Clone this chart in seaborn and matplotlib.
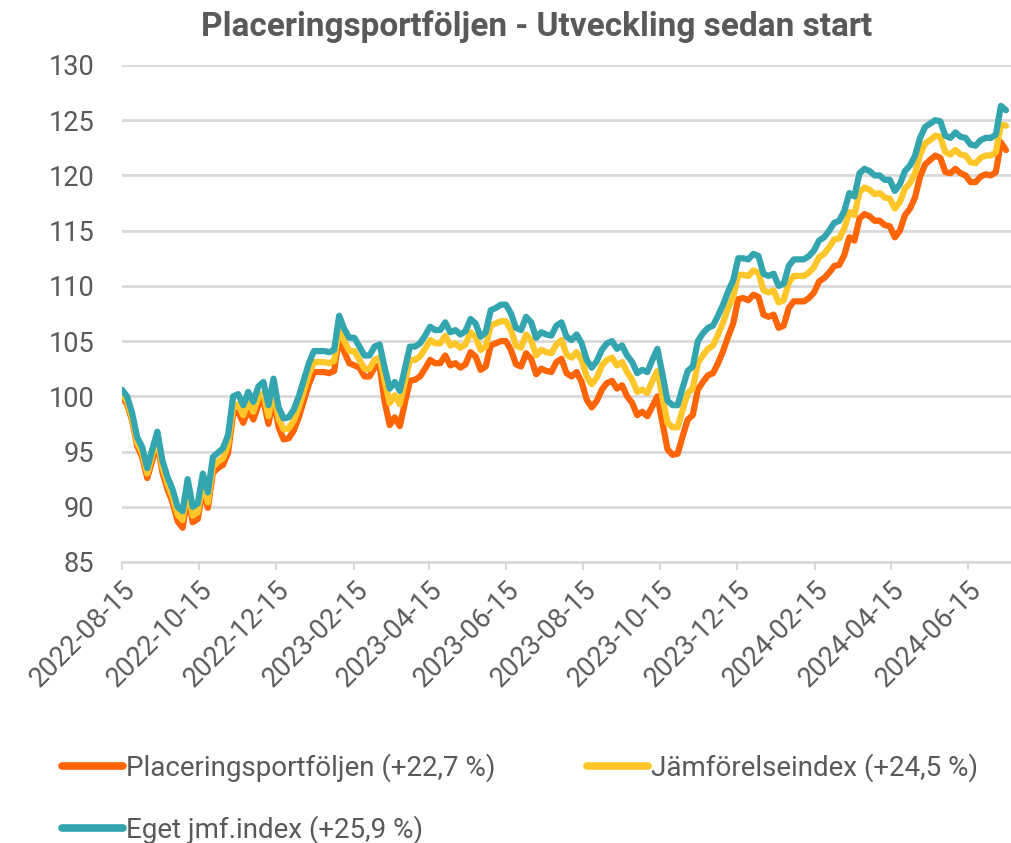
import matplotlib
matplotlib.use('Agg')
import matplotlib.pyplot as plt
import matplotlib.dates as mdates
import seaborn as sns
import pandas as pd

# Observation dates: every 4th day from the start of the portfolio
start_date = '2022-08-15'
n_obs = 176

# Index values (start = 100)
eget = [100.6, 100.0, 98.5, 96.3, 95.4, 93.5, 95.2, 96.8, 94.2, 92.7,
        91.6, 90.0, 89.6, 92.5, 90.0, 90.3, 93.0, 91.3, 94.5, 94.9,
        95.3, 96.5, 100.0, 100.2, 99.2, 100.4, 99.5, 100.9, 101.3, 99.2,
        101.6, 99.0, 98.0, 98.1, 98.8, 100.0, 101.5, 103.0, 104.1, 104.1,
        104.1, 104.0, 104.2, 107.3, 106.1, 105.3, 105.3, 104.5, 103.7, 103.7,
        104.5, 104.7, 102.6, 100.7, 101.3, 100.5, 102.5, 104.5, 104.5, 104.8,
        105.5, 106.3, 106.0, 106.0, 106.7, 105.8, 106.0, 105.6, 105.9, 107.0,
        106.6, 105.4, 105.8, 107.8, 108.0, 108.3, 108.3, 107.5, 106.2, 106.0,
        107.2, 106.7, 105.3, 105.8, 105.6, 105.5, 106.4, 106.7, 105.4, 105.1,
        105.6, 104.8, 103.3, 102.6, 103.2, 104.2, 104.8, 105.0, 104.3, 104.6,
        103.7, 103.1, 102.1, 102.4, 102.2, 103.3, 104.3, 102.0, 99.6, 99.2,
        99.2, 100.8, 102.3, 102.7, 105.0, 105.7, 106.2, 106.4, 107.3, 108.3,
        109.5, 110.5, 112.5, 112.5, 112.4, 112.9, 112.7, 111.1, 110.9, 111.1,
        110.0, 110.2, 111.8, 112.4, 112.4, 112.4, 112.7, 113.2, 114.1, 114.4,
        115.0, 115.7, 115.9, 116.8, 118.4, 118.1, 120.2, 120.6, 120.4, 120.0,
        120.0, 119.6, 119.6, 118.6, 119.2, 120.4, 120.9, 121.8, 123.4, 124.4,
        124.7, 125.0, 124.9, 123.6, 123.4, 123.9, 123.5, 123.4, 122.8, 122.7,
        123.2, 123.4, 123.4, 123.7, 126.3, 125.9]

jamfor = [100.2, 99.6, 98.0, 95.8, 94.9, 93.0, 94.7, 96.2, 93.6, 92.1,
          90.9, 89.3, 88.8, 91.7, 89.2, 89.5, 92.2, 90.4, 93.6, 94.1,
          94.4, 95.6, 99.1, 99.3, 98.3, 99.5, 98.6, 99.9, 100.3, 98.2,
          100.6, 98.0, 97.0, 97.1, 97.8, 99.0, 100.5, 102.0, 103.1, 103.1,
          103.1, 103.0, 103.2, 106.2, 105.0, 104.1, 104.1, 103.3, 102.5, 102.5,
          103.3, 103.5, 101.4, 99.4, 100.1, 99.3, 101.3, 103.3, 103.3, 103.6,
          104.3, 105.1, 104.8, 104.8, 105.5, 104.6, 104.8, 104.4, 104.7, 105.8,
          105.4, 104.2, 104.5, 106.4, 106.6, 106.8, 106.8, 106.0, 104.6, 104.4,
          105.6, 105.1, 103.7, 104.2, 104.0, 103.9, 104.7, 105.1, 103.8, 103.5,
          104.0, 103.3, 101.8, 101.1, 101.7, 102.8, 103.3, 103.5, 102.8, 103.1,
          102.2, 101.5, 100.4, 100.6, 100.3, 101.4, 102.3, 99.9, 97.6, 97.2,
          97.2, 98.8, 100.3, 100.7, 103.0, 103.7, 104.3, 104.6, 105.6, 106.7,
          108.0, 109.0, 111.0, 111.0, 110.9, 111.4, 111.2, 109.6, 109.4, 109.6,
          108.5, 108.7, 110.3, 110.9, 110.9, 110.9, 111.2, 111.7, 112.6, 112.9,
          113.5, 114.2, 114.3, 115.2, 116.7, 116.4, 118.5, 118.9, 118.7, 118.3,
          118.4, 118.0, 117.9, 117.0, 117.6, 118.8, 119.3, 120.2, 121.9, 122.9,
          123.2, 123.6, 123.5, 122.1, 121.9, 122.3, 121.9, 121.8, 121.2, 121.1,
          121.6, 121.8, 121.8, 122.1, 124.6, 124.5]

placering = [99.9, 99.3, 97.8, 95.5, 94.5, 92.6, 94.2, 95.8, 93.1, 91.6,
             90.4, 88.7, 88.1, 91.0, 88.6, 88.9, 91.6, 89.9, 93.1, 93.5,
             93.8, 94.9, 98.4, 98.6, 97.6, 98.8, 97.9, 99.2, 99.6, 97.5,
             99.8, 97.2, 96.1, 96.2, 96.9, 98.1, 99.6, 101.1, 102.2, 102.2,
             102.2, 102.1, 102.3, 105.4, 104.0, 103.0, 102.8, 102.6, 101.8, 101.8,
             102.6, 102.8, 99.5, 97.4, 98.1, 97.3, 99.4, 101.4, 101.5, 101.8,
             102.5, 103.3, 103.0, 103.0, 103.7, 102.8, 103.0, 102.6, 102.9, 104.0,
             103.6, 102.4, 102.7, 104.6, 104.8, 105.0, 105.0, 104.2, 102.9, 102.7,
             103.9, 103.4, 102.0, 102.5, 102.3, 102.2, 103.1, 103.4, 102.1, 101.8,
             102.2, 101.3, 99.7, 99.0, 99.6, 100.6, 101.2, 101.4, 100.7, 101.0,
             100.0, 99.4, 98.3, 98.6, 98.2, 99.1, 100.0, 97.6, 95.2, 94.7,
             94.8, 96.4, 97.9, 98.3, 100.6, 101.3, 101.9, 102.1, 103.0, 104.1,
             105.4, 106.6, 108.8, 108.9, 108.7, 109.2, 109.0, 107.4, 107.2, 107.4,
             106.2, 106.4, 108.0, 108.6, 108.6, 108.6, 108.9, 109.4, 110.4, 110.7,
             111.2, 111.8, 111.9, 112.8, 114.4, 114.1, 116.1, 116.5, 116.3, 115.9,
             115.9, 115.5, 115.4, 114.4, 115.0, 116.4, 117.0, 118.0, 119.9, 121.0,
             121.4, 121.8, 121.6, 120.3, 120.2, 120.6, 120.2, 120.0, 119.4, 119.4,
             119.9, 120.1, 120.0, 120.3, 123.0, 122.3]

series_names = ['Placeringsportföljen (+22,7 %)',
                'Jämförelseindex (+24,5 %)',
                'Eget jmf.index (+25,9 %)']
series_colors = ['#FF6405', '#FFC629', '#33A5AF']
y_ticks = [85, 90, 95, 100, 105, 110, 115, 120, 125, 130]

dates = pd.date_range(start_date, periods=n_obs, freq='4D')
df = pd.concat([
    pd.DataFrame({'Datum': dates, 'Index': placering, 'Serie': series_names[0]}),
    pd.DataFrame({'Datum': dates, 'Index': jamfor, 'Serie': series_names[1]}),
    pd.DataFrame({'Datum': dates, 'Index': eget, 'Serie': series_names[2]}),
], ignore_index=True)

sns.set_theme(style='white')
plt.rcParams['font.family'] = ['Roboto', 'DejaVu Sans']
text_grey = '#595959'
grid_grey = '#D9D9D9'

fig = plt.figure(figsize=(10.11, 8.43), dpi=100)
ax = fig.add_axes([122 / 1011, 1 - 562 / 843, 1 - 122 / 1011, (562 - 65) / 843])

sns.lineplot(data=df, x='Datum', y='Index', hue='Serie', hue_order=series_names,
             palette=series_colors, linewidth=4.5, ax=ax, legend=False)
for line in ax.lines:
    line.set_solid_capstyle('round')
    line.set_solid_joinstyle('round')

ax.set_ylim(85, 130)
ax.set_yticks(y_ticks)
ax.set_xlim(pd.Timestamp('2022-08-15'), pd.Timestamp('2024-07-19'))
ax.xaxis.set_major_locator(mdates.MonthLocator(bymonth=[2, 4, 6, 8, 10, 12], bymonthday=15))
ax.xaxis.set_major_formatter(mdates.DateFormatter('%Y-%m-%d'))
ax.set_xlabel('')
ax.set_ylabel('')

ax.grid(axis='y', color=grid_grey, linewidth=2)
ax.grid(axis='x', visible=False)
ax.set_axisbelow(True)
for side in ['top', 'right', 'left']:
    ax.spines[side].set_visible(False)
ax.spines['bottom'].set_color(grid_grey)
ax.spines['bottom'].set_linewidth(2)

ax.tick_params(axis='y', length=0, pad=20, labelsize=19.5, labelcolor=text_grey)
ax.tick_params(axis='x', length=6, width=1.5, color=grid_grey, pad=4,
               labelsize=19.5, labelcolor=text_grey, bottom=True)
for lbl in ax.get_xticklabels():
    lbl.set_rotation(45)
    lbl.set_ha('right')
    lbl.set_rotation_mode('anchor')

fig.text(537 / 1011, 1 - 27 / 843, 'Placeringsportföljen - Utveckling sedan start',
         ha='center', va='center', fontsize=24, fontweight='bold', color=text_grey)

# legend: column 1 holds Placering + Eget, column 2 holds Jämförelse
handles = ax.lines
order = [0, 2, 1]
leg = fig.legend([handles[i] for i in order], [series_names[i] for i in order],
                 loc='upper left', bbox_to_anchor=(62 / 1011, 1 - 753 / 843),
                 ncol=2, frameon=False, fontsize=20, handlelength=2.2,
                 handletextpad=0.1, columnspacing=3.3, labelspacing=1.2,
                 borderaxespad=0, borderpad=0)
for txt in leg.get_texts():
    txt.set_color(text_grey)
for h in leg.legend_handles:
    h.set_linewidth(5.5)
    h.set_solid_capstyle('round')

fig.savefig('out.png', dpi=100)
